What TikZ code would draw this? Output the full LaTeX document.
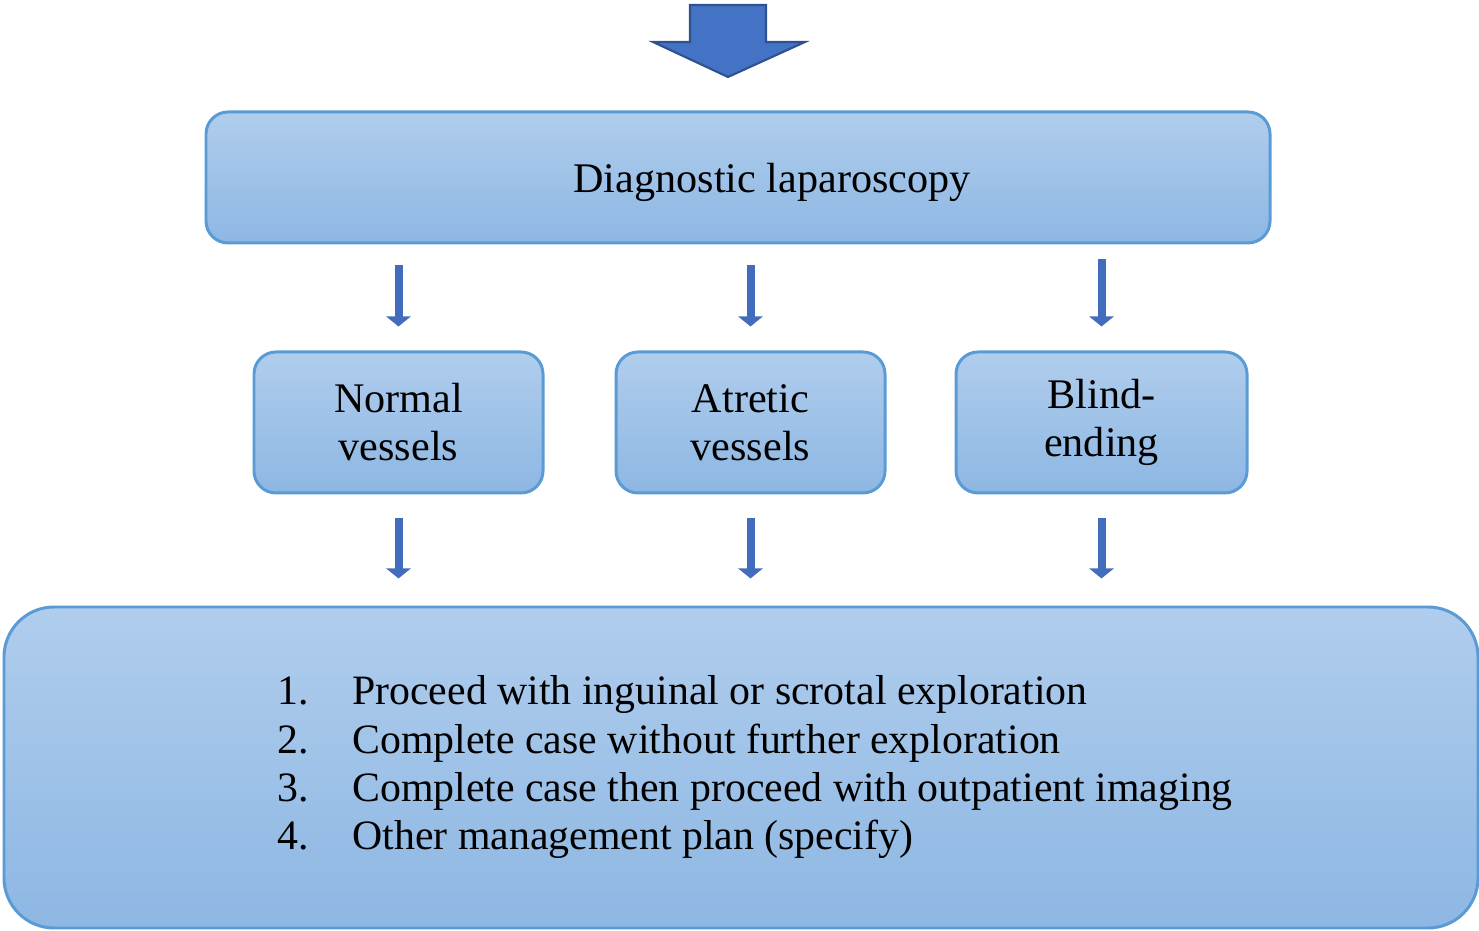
\documentclass[tikz,border=0pt]{standalone}
\usepackage{fontspec}
\setmainfont{Liberation Serif}
\usetikzlibrary{arrows.meta}
\definecolor{boxtop}{RGB}{176,205,237}
\definecolor{boxbot}{RGB}{141,183,227}
\definecolor{boxline}{RGB}{91,155,213}
\definecolor{arrowfill}{RGB}{68,114,196}
\definecolor{arrowline}{RGB}{47,82,143}
\begin{document}
\begin{tikzpicture}[
    stage/.style={draw=boxline, line width=0.85pt, rounded corners=0.22cm,
        top color=boxtop, bottom color=boxbot, align=center,
        font=\fontsize{12}{13.7}\selectfont, inner sep=0pt},
    flow/.style={draw=arrowfill!85!arrowline, line width=0.08cm,
        -{Triangle[width=0.24cm, length=0.1cm]}}
  ]
    \useasboundingbox (0, 0) rectangle (14.79, 9.30);

    \fill[arrowfill, draw=arrowline, line width=0.6pt]
        (6.90, 9.25) -- (7.66, 9.25) -- (7.66, 8.88) -- (8.05, 8.88)
        -- (7.28, 8.53) -- (6.53, 8.88) -- (6.90, 8.88) -- cycle;

    \node[stage, minimum width=10.64cm, minimum height=1.31cm,
        text height=0.39cm, text depth=0.08cm] (diag) at (7.38, 7.525)
        {\hspace{0.68cm}Diagnostic laparoscopy};

    \node[stage, minimum width=2.89cm, minimum height=1.41cm] (normal)  at (3.985, 5.075) {Normal\\vessels};
    \node[stage, minimum width=2.69cm, minimum height=1.41cm] (atretic) at (7.505, 5.075) {Atretic\\vessels};
    \node[stage, minimum width=2.91cm, minimum height=1.41cm] (blind)   at (11.015, 5.075) {Blind-\\ending};

    \node[stage, minimum width=14.74cm, minimum height=3.21cm, rounded corners=0.5cm,
        font=\fontsize{11.9}{13.7}\selectfont] (plan) at (7.41, 1.625)
        {\begin{tabular}{@{\hspace{0.28cm}}p{0.75cm}@{}l@{}}
            1. & Proceed with inguinal or scrotal exploration\\
            2. & Complete case without further exploration\\
            3. & Complete case then proceed with outpatient imaging\\
            4. & Other management plan (specify)
        \end{tabular}};

    \draw[flow] ([yshift=-0.21cm]diag.south -| normal.north)  -- ([yshift=0.24cm]normal.north);
    \draw[flow] ([yshift=-0.21cm]diag.south -| atretic.north) -- ([yshift=0.24cm]atretic.north);
    \draw[flow] ([yshift=-0.15cm]diag.south -| blind.north)   -- ([yshift=0.24cm]blind.north);

    \draw[flow] ([yshift=-0.24cm]normal.south)  -- ([yshift=0.27cm]plan.north -| normal.south);
    \draw[flow] ([yshift=-0.24cm]atretic.south) -- ([yshift=0.27cm]plan.north -| atretic.south);
    \draw[flow] ([yshift=-0.24cm]blind.south)   -- ([yshift=0.27cm]plan.north -| blind.south);
\end{tikzpicture}
\end{document}
